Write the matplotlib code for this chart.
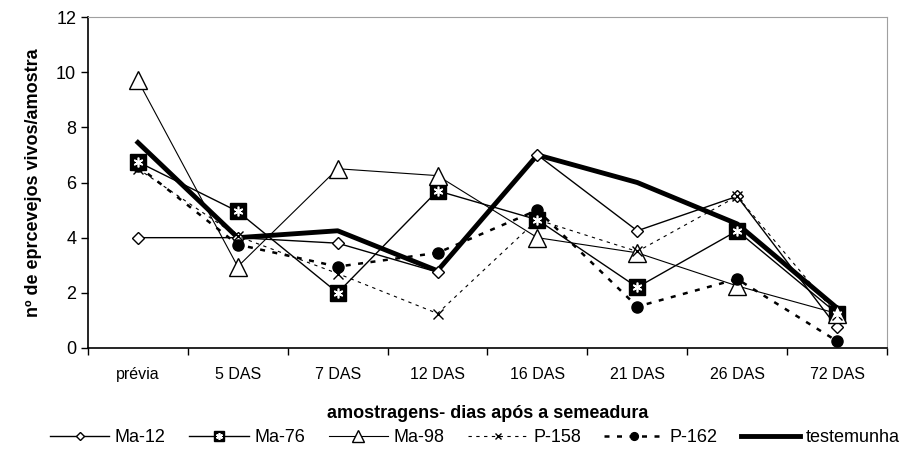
import matplotlib
matplotlib.use('Agg')
import matplotlib.pyplot as plt
from matplotlib.legend_handler import HandlerTuple

# data
categories = ['prévia', '5 DAS', '7 DAS', '12 DAS', '16 DAS', '21 DAS', '26 DAS', '72 DAS']
ma12 = [4.0, 4.0, 3.8, 2.75, 7.0, 4.25, 5.5, 0.75]
ma76 = [6.75, 4.95, 2.0, 5.7, 4.65, 2.2, 4.25, 1.25]
ma98 = [9.7, 2.95, 6.5, 6.25, 4.0, 3.45, 2.25, 1.25]
p158 = [6.5, 4.05, 2.7, 1.25, 4.65, 3.5, 5.5, 1.2]
p162 = [6.6, 3.75, 2.95, 3.45, 5.0, 1.5, 2.5, 0.25]
testemunha = [7.45, 4.0, 4.25, 2.8, 7.0, 6.0, 4.5, 1.45]
yticks = [0, 2, 4, 6, 8, 10, 12]

plt.rcParams['font.family'] = ['Liberation Sans', 'DejaVu Sans']

fig = plt.figure(figsize=(9.22, 4.49), dpi=100)
ax = fig.add_axes([0.0954, 0.225, 0.8666, 0.737])
x = list(range(len(categories)))

l1, = ax.plot(x, ma12, color='k', lw=1, marker='D', ms=6.5, mfc='white',
              mec='k', mew=1, zorder=3)
l2a, = ax.plot(x, ma76, color='k', lw=1, marker='s', ms=11, mfc='k',
               mec='k', zorder=3)
l2b, = ax.plot(x, ma76, ls='none', marker=(6, 2, 0), ms=7, mec='white',
               mew=1.2, zorder=4)
l3, = ax.plot(x, ma98, color='k', lw=0.8, marker='^', ms=13, mfc='white',
              mec='k', mew=1, zorder=3)
l4, = ax.plot(x, p158, color='k', lw=0.8, ls=(0, (3, 4)), marker='x', ms=7,
              mew=1, zorder=3)
l5, = ax.plot(x, p162, color='k', lw=1.8, ls=(0, (2, 3)), marker='o', ms=8,
              mfc='k', zorder=3)
l6, = ax.plot(x, testemunha, color='k', lw=3.5, zorder=2)

# axes styling
ax.set_xlim(-0.5, len(categories) - 0.5)
ax.set_ylim(0, 12)
ax.set_yticks(yticks)
ax.set_xticks(x)
ax.set_xticklabels(categories, fontsize=11.5)
ax.set_xticks([i - 0.5 for i in range(len(categories) + 1)], minor=True)
ax.tick_params(axis='x', which='major', length=0, pad=14)
ax.tick_params(axis='x', which='minor', length=5, width=1, direction='out')
ax.tick_params(axis='y', length=5, width=1, labelsize=13, direction='out')
for side in ['top', 'right']:
    ax.spines[side].set_color('#a0a0a0')
for side in ['left', 'bottom']:
    ax.spines[side].set_linewidth(1.2)

ax.set_ylabel('nº de eprcevejos vivos/amostra', fontsize=13,
              fontweight='bold', labelpad=10)
ax.set_xlabel('amostragens- dias após a semeadura', fontsize=13,
              fontweight='bold', labelpad=16)

fig.legend([l1, (l2a, l2b), l3, l4, l5, l6],
           ['Ma-12', 'Ma-76', 'Ma-98', 'P-158', 'P-162', 'testemunha'],
           handler_map={tuple: HandlerTuple(ndivide=1, pad=0)},
           loc='lower center', bbox_to_anchor=(0.515, -0.03), ncol=6,
           frameon=False, fontsize=13, handlelength=3.3, columnspacing=1.3,
           handletextpad=0.3, markerscale=0.7)

fig.savefig('out.png', dpi=100)
